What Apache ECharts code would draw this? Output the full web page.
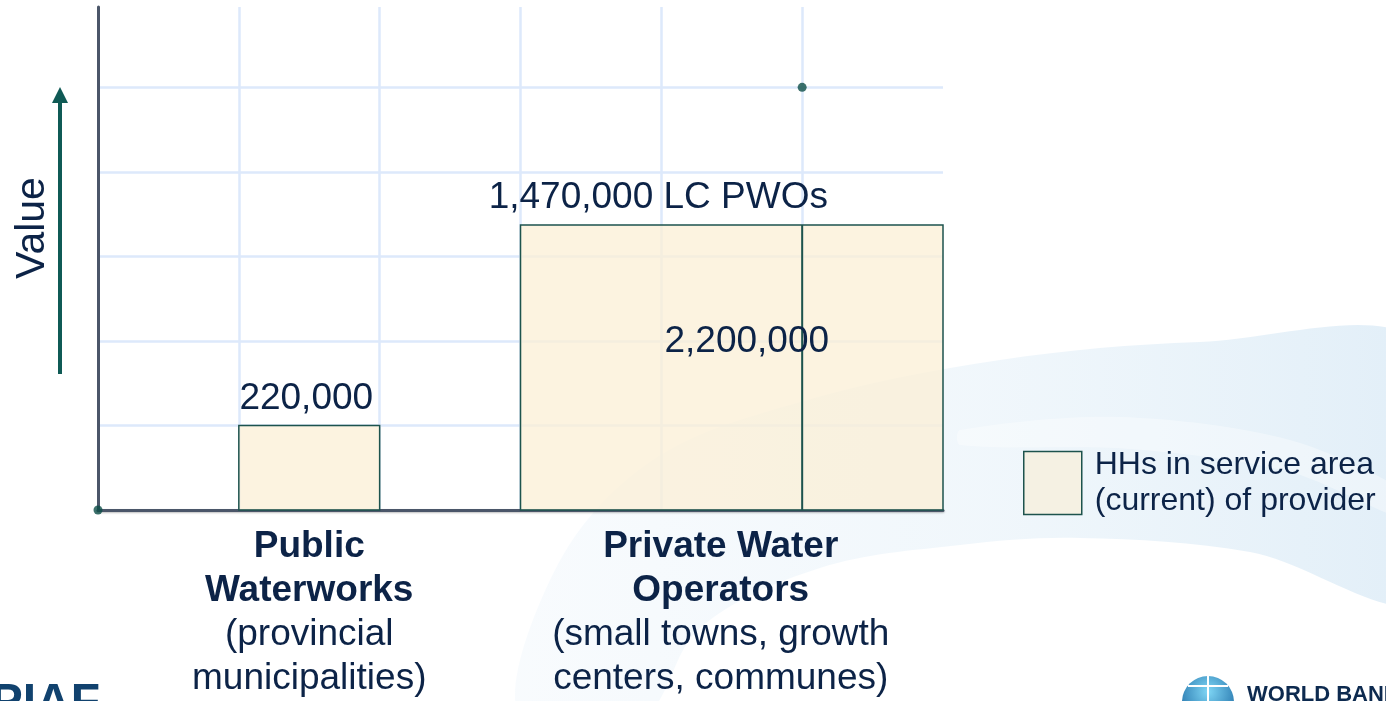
<!DOCTYPE html>
<html>
<head>
<meta charset="utf-8">
<title>HHs in service area</title>
<script src="https://cdn.jsdelivr.net/npm/echarts@6/dist/echarts.min.js"></script>
<style>
	html, body { margin: 0; padding: 0; background: #fff; }
	#chart { width: 1386px; height: 701px; }
</style>
</head>
<body>
<div id="chart"></div>
<script>
// data
var providers = ['Public Waterworks', 'Private Water Operators'];
var providerTitles = ['Public\nWaterworks', 'Private Water\nOperators'];
var providerNotes = ['(provincial\nmunicipalities)', '(small towns, growth\ncenters, communes)'];
var barStart = [1, 3];
var barEnd = [2, 6];
var barHeight = [1, 3.37];
var dividerAt = [null, 5];
var topLabels = ['220,000', '1,470,000 LC PWOs'];
var innerLabels = ['', '2,200,000'];
var pointX = [0, 5];
var pointY = [0, 5];
var legendName = 'HHs in service area\n(current) of provider';

var FONT = 'Liberation Sans, Arial, sans-serif';
var NAVY = '#0c2347';
var TEAL = '#0f5a55';

(function() {
	var myChart = echarts.init(document.getElementById('chart'));

	var barData = [];
	for(var i = 0; i < barStart.length; i++) {
		barData.push([barStart[i], barEnd[i], barHeight[i], dividerAt[i] === null ? -1 : dividerAt[i]]);
	}
	var pointData = [];
	for(var p = 0; p < pointX.length; p++) {
		pointData.push([pointX[p], pointY[p]]);
	}

	//variable width bars
	function renderBar(params, api) {
		var x0 = api.value(0), x1 = api.value(1), h = api.value(2), div = api.value(3);
		var topLeft = api.coord([x0, h]);
		var botRight = api.coord([x1, 0]);
		var style = api.style();
		var children = [{
			type: 'rect',
			shape: { x: topLeft[0], y: topLeft[1], width: botRight[0] - topLeft[0], height: botRight[1] - topLeft[1] },
			style: { fill: style.fill, stroke: '#1d534d', lineWidth: 1.5 }
		}];
		var labelEnd = x1;
		if(div >= 0) {
			var d0 = api.coord([div, h]);
			children.push({
				type: 'line',
				shape: { x1: d0[0], y1: topLeft[1], x2: d0[0], y2: botRight[1] },
				style: { stroke: '#1d534d', lineWidth: 2 }
			});
			labelEnd = div;
		}
		var topMid = api.coord([(x0 + labelEnd) / 2, h]);
		children.push({
			type: 'text',
			x: topMid[0] - 3, y: topMid[1] - 27,
			style: { text: topLabels[params.dataIndex], fill: NAVY, font: '37px ' + FONT, align: 'center', verticalAlign: 'middle' }
		});
		if(innerLabels[params.dataIndex]) {
			var mid = api.coord([(x0 + x1) / 2, h / 2]);
			children.push({
				type: 'text',
				x: mid[0] + 15, y: mid[1] - 26,
				z2: 10,
				style: { text: innerLabels[params.dataIndex], fill: NAVY, font: '37px ' + FONT, align: 'center', verticalAlign: 'middle' }
			});
		}
		return { type: 'group', children: children };
	}

	var option = {
		animation: false,
		backgroundColor: '#ffffff',
		textStyle: { fontFamily: FONT },
		grid: { left: 98, right: 443, top: 7, bottom: 191 },
		legend: {
			data: [legendName],
			left: 1018,
			top: 442,
			icon: 'rect',
			itemWidth: 58,
			itemHeight: 63,
			itemStyle: { color: 'rgba(246,240,222,0.85)', borderColor: '#1d534d', borderWidth: 1.5 },
			textStyle: { color: NAVY, fontSize: 32, lineHeight: 36, fontFamily: FONT, padding: [0, 0, 0, 8] }
		},
		xAxis: [{
			type: 'value',
			min: 0,
			max: 6,
			interval: 1,
			axisLine: { show: true, onZero: false, lineStyle: { color: '#4b5669', width: 3, shadowColor: 'rgba(0,0,0,0.25)', shadowBlur: 2, shadowOffsetY: 1 } },
			axisTick: { show: false },
			axisLabel: { show: false },
			splitLine: { show: true, showMinLine: false, showMaxLine: false, lineStyle: { color: '#dde9fb', width: 2.5 } }
		}, {
			type: 'category',
			position: 'bottom',
			data: providers,
			axisLine: { show: false },
			axisTick: { show: false },
			splitLine: { show: false },
			axisLabel: {
				interval: 0,
				margin: 15,
				formatter: function(value, index) {
					var t = providerTitles[index].split('\n');
					var n = providerNotes[index].split('\n');
					var s = index === 0 ? '' : 'p';
					var lines = [];
					for(var a = 0; a < t.length; a++) lines.push('{b' + s + '|' + t[a] + '}');
					for(var b = 0; b < n.length; b++) lines.push('{n' + s + '|' + n[b] + '}');
					return lines.join('\n');
				},
				rich: {
					b: { fontFamily: FONT, fontSize: 37, lineHeight: 44, fontWeight: 'bold', color: NAVY },
					n: { fontFamily: FONT, fontSize: 37, lineHeight: 44, color: NAVY },
					bp: { fontFamily: FONT, fontSize: 37, lineHeight: 44, fontWeight: 'bold', color: NAVY, padding: [0, 22, 0, 0] },
					np: { fontFamily: FONT, fontSize: 37, lineHeight: 44, color: NAVY, padding: [0, 22, 0, 0] }
				}
			}
		}],
		yAxis: {
			type: 'value',
			min: 0,
			max: 5.95,
			interval: 1,
			axisLine: { show: true, onZero: false, lineStyle: { color: '#4b5669', width: 3 } },
			axisTick: { show: false },
			axisLabel: { show: false },
			splitLine: { show: true, showMinLine: false, showMaxLine: false, lineStyle: { color: '#dde9fb', width: 2.5 } }
		},
		graphic: [
			//slide background swoosh
			{
				type: 'polygon',
				z: -10,
				silent: true,
				shape: {
					smooth: 0.35,
					points: [[520, 720], [555, 570], [650, 462], [800, 402], [1000, 360], [1200, 342], [1420, 345],
						[1420, 598], [1250, 552], [1080, 538], [960, 545], [820, 568], [700, 628], [640, 720]]
				},
				style: {
					fill: new echarts.graphic.LinearGradient(0, 0, 1, 0, [
						{ offset: 0, color: 'rgba(232,242,250,0.3)' },
						{ offset: 0.5, color: 'rgba(226,239,248,0.5)' },
						{ offset: 1, color: 'rgba(214,232,245,0.75)' }
					])
				}
			},
			{
				type: 'polygon',
				z: -9,
				silent: true,
				shape: {
					smooth: 0.3,
					points: [[960, 430], [1120, 417], [1290, 440], [1420, 500], [1420, 525], [1290, 472], [1130, 449], [960, 445]]
				},
				style: { fill: 'rgba(255,255,255,0.35)' }
			},
			//y axis title and arrow
			{
				type: 'text',
				x: 33, y: 228,
				rotation: Math.PI / 2,
				style: { text: 'Value', fill: NAVY, font: '41px ' + FONT, align: 'center', verticalAlign: 'middle' }
			},
			{
				type: 'line',
				shape: { x1: 60, y1: 374, x2: 60, y2: 100 },
				style: { stroke: TEAL, lineWidth: 4 }
			},
			{
				type: 'polygon',
				shape: { points: [[52, 103], [68, 103], [60, 87]] },
				style: { fill: TEAL }
			},
			//logos at the bottom edge
			{
				type: 'text',
				x: 100, y: 704,
				style: { text: 'PPIAF', fill: '#11426e', font: 'bold 48px ' + FONT, align: 'right', verticalAlign: 'middle' }
			},
			{
				type: 'circle',
				shape: { cx: 1208, cy: 702, r: 26 },
				style: {
					fill: new echarts.graphic.RadialGradient(0.5, 0.3, 0.8, [
						{ offset: 0, color: '#7fd6f5' },
						{ offset: 1, color: '#0d5a98' }
					])
				}
			},
			{
				type: 'line',
				shape: { x1: 1188, y1: 686, x2: 1228, y2: 686 },
				style: { stroke: '#ffffff', lineWidth: 2 }
			},
			{
				type: 'line',
				shape: { x1: 1208, y1: 676, x2: 1208, y2: 701 },
				style: { stroke: '#ffffff', lineWidth: 2 }
			},
			{
				type: 'text',
				x: 1247, y: 695,
				style: { text: 'WORLD BANK', fill: '#0d2a4f', font: 'bold 22px ' + FONT, align: 'left', verticalAlign: 'middle' }
			}
		],
		series: [{
			name: legendName,
			type: 'custom',
			xAxisIndex: 0,
			yAxisIndex: 0,
			renderItem: renderBar,
			itemStyle: { color: 'rgba(251,239,214,0.75)', borderColor: '#1d534d', borderWidth: 1.5 },
			encode: { x: [0, 1], y: 2 },
			data: barData,
			z: 3
		}, {
			name: 'points',
			type: 'scatter',
			xAxisIndex: 0,
			yAxisIndex: 0,
			symbolSize: 9,
			clip: false,
			itemStyle: { color: '#0d4d47' },
			data: pointData,
			z: 5
		}]
	};

	myChart.setOption(option);
	window.onresize = function() {
		myChart.resize();
	};
})();
</script>
</body>
</html>
